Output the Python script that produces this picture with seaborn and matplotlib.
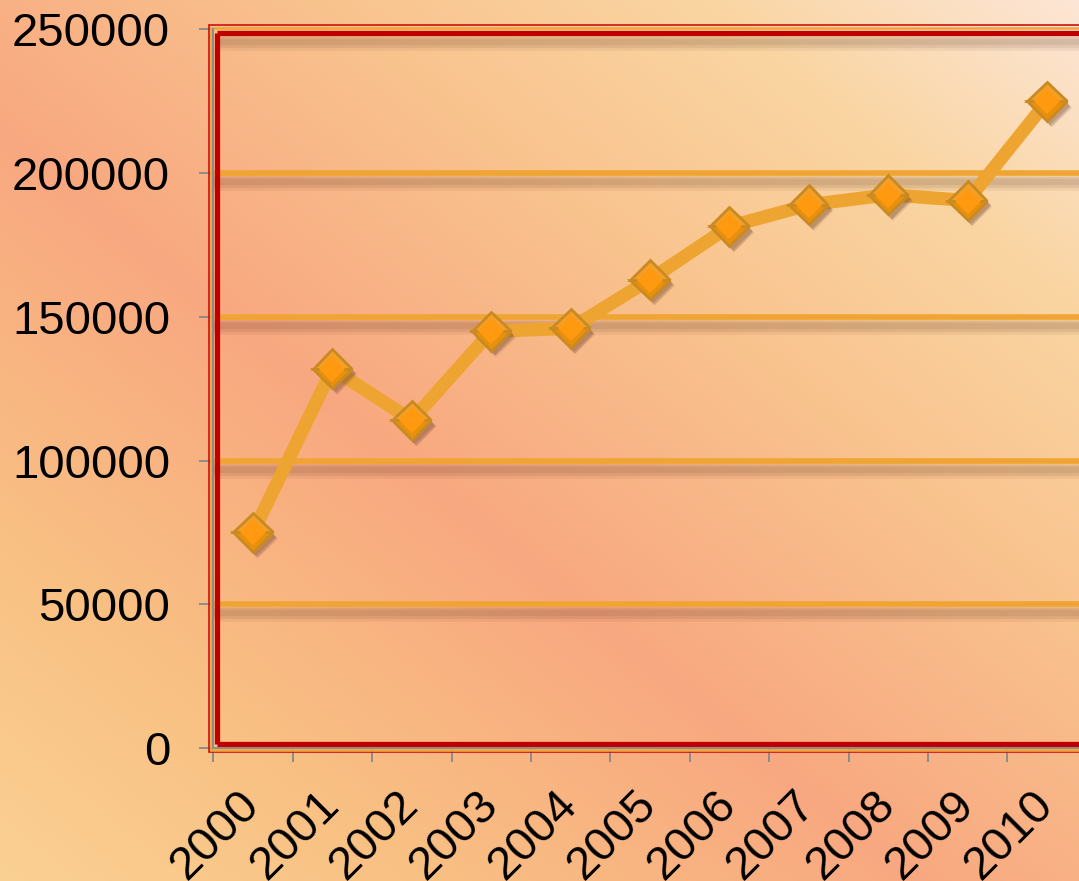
import numpy as np
import pandas as pd
import matplotlib
matplotlib.use("Agg")
import matplotlib.pyplot as plt
import seaborn as sns
from matplotlib import patheffects as pe
from matplotlib.colors import to_rgb

# ---- data ----
years = ["2000", "2001", "2002", "2003", "2004", "2005", "2006", "2007", "2008", "2009", "2010"]
values = [75000, 132000, 114000, 145000, 146000, 163000, 181500, 189000, 192500, 190500, 225000]
y_ticks = [0, 50000, 100000, 150000, 200000, 250000]

sns.set_style("white")
plt.rcParams["font.family"] = ["Liberation Sans", "DejaVu Sans"]

W, H = 1079, 881
fig = plt.figure(figsize=(W / 100, H / 100), dpi=100)

# ---- background gradient ----
bg = fig.add_axes([0, 0, 1, 1], zorder=-10)
yy, xx = np.mgrid[0:H, 0:W]
u = xx / W - yy / H
stops_u = [-1.0, -0.6, -0.15, 0.3, 0.65, 1.0]
stops_c = ["#FBD093", "#F9C083", "#F8A880", "#F9C38E", "#FAD5A2", "#FDE6D6"]
rgb = np.array([to_rgb(c) for c in stops_c])
img = np.stack([np.interp(u, stops_u, rgb[:, k]) for k in range(3)], axis=-1)
bg.imshow(img, aspect="auto", extent=[0, 1, 0, 1], origin="upper")
bg.axis("off")

# ---- main axes ----
ax = fig.add_axes([213.3 / W, (H - 748) / H, 873.4 / W, 718.5 / H])
ax.patch.set_alpha(0)

n = len(years)
df = pd.DataFrame({"pos": np.arange(n), "year": years, "value": values})

shadow_fx = [
    pe.SimpleLineShadow(offset=(0, -6.5), shadow_color="#5a3020", alpha=0.07, linewidth=12),
    pe.SimpleLineShadow(offset=(0, -6.5), shadow_color="#5a3020", alpha=0.09, linewidth=8),
    pe.SimpleLineShadow(offset=(0, -6.5), shadow_color="#5a3020", alpha=0.09, linewidth=4.5),
    pe.Normal(),
]
for yv in y_ticks[1:-1]:
    ax.axhline(yv, color="#F0A532", lw=4, zorder=1, path_effects=shadow_fx)

# line
sns.lineplot(data=df, x="pos", y="value", ax=ax, color="#EEA431", lw=9.5,
             solid_joinstyle="round", solid_capstyle="round", zorder=3)
# markers (outer bevel with soft shadow)
marker_shadow = [
    pe.SimplePatchShadow(offset=(3.5, -4.5), shadow_rgbFace="#6a4030", alpha=0.12),
    pe.SimplePatchShadow(offset=(3.0, -4.0), shadow_rgbFace="#6a4030", alpha=0.18),
    pe.SimplePatchShadow(offset=(2.5, -3.0), shadow_rgbFace="#6a4030", alpha=0.2),
    pe.Normal(),
]
sns.lineplot(data=df, x="pos", y="value", ax=ax, linestyle="", marker="D",
             markersize=20, markerfacecolor="#F3A02A", markerfacecoloralt="#E8900C",
             fillstyle="top", markeredgecolor="#C98A22", markeredgewidth=2.0, zorder=4,
             path_effects=marker_shadow)
# inner bright facet
sns.lineplot(data=df, x="pos", y="value", ax=ax, linestyle="", marker="D",
             markersize=13, markerfacecolor="#FF9A10", markeredgewidth=0, zorder=5)

ax.set_xlabel("")
ax.set_ylabel("")
ax.set_xlim(-0.5, n - 0.5)
ax.set_ylim(y_ticks[0], y_ticks[-1])

# ---- frame ----
def rect_lines(x0, y0, y1, color, lw, z):
    kw = dict(transform=ax.transAxes, clip_on=False, color=color, lw=lw, zorder=z,
              solid_capstyle="butt", solid_joinstyle="miter")
    ax.plot([1.05, x0, x0, 1.05], [y1, y1, y0, y0], **kw)

rect_lines(-0.0044, -0.0051, 1.0056, "#D01010", 1.2, 6)
rect_lines(-0.0026, -0.0028, 1.0025, "#F2A43A", 1.8, 6)
kwt = dict(transform=ax.transAxes, clip_on=False, color="#C00000", lw=3.8, zorder=7,
           solid_capstyle="butt")
ax.plot([0.0037, 1.05], [0.9955, 0.9955], path_effects=shadow_fx, **kwt)
ax.plot([0.0037, 0.0037], [0.0056, 0.9955], **kwt)
ax.plot([0.0037, 1.05], [0.0056, 0.0056], **kwt)

# ---- spines & ticks ----
for s in ["top", "right"]:
    ax.spines[s].set_visible(False)
for s in ["left", "bottom"]:
    ax.spines[s].set_color("#8C8C8C")
    ax.spines[s].set_linewidth(1.4)
    ax.spines[s].set_zorder(8)

ax.set_xticks(np.arange(n))
ax.set_xticklabels(years, rotation=45, ha="right", va="center", rotation_mode="anchor")
ax.set_xticks(np.arange(n + 1) - 0.5, minor=True)
ax.tick_params(axis="x", which="major", length=0, pad=36, labelsize=34, bottom=True,
               labelcolor="black")
ax.tick_params(axis="x", which="minor", length=10, width=1.4, color="#8C8C8C",
               direction="out", bottom=True)
ax.set_yticks(y_ticks)
ax.set_yticklabels([str(v) for v in y_ticks])
ax.tick_params(axis="y", which="major", length=10, width=1.4, color="#8C8C8C",
               direction="out", pad=21, labelsize=34, left=True, labelcolor="black")
ax.grid(False)

fig.savefig("out.png", dpi=100)
